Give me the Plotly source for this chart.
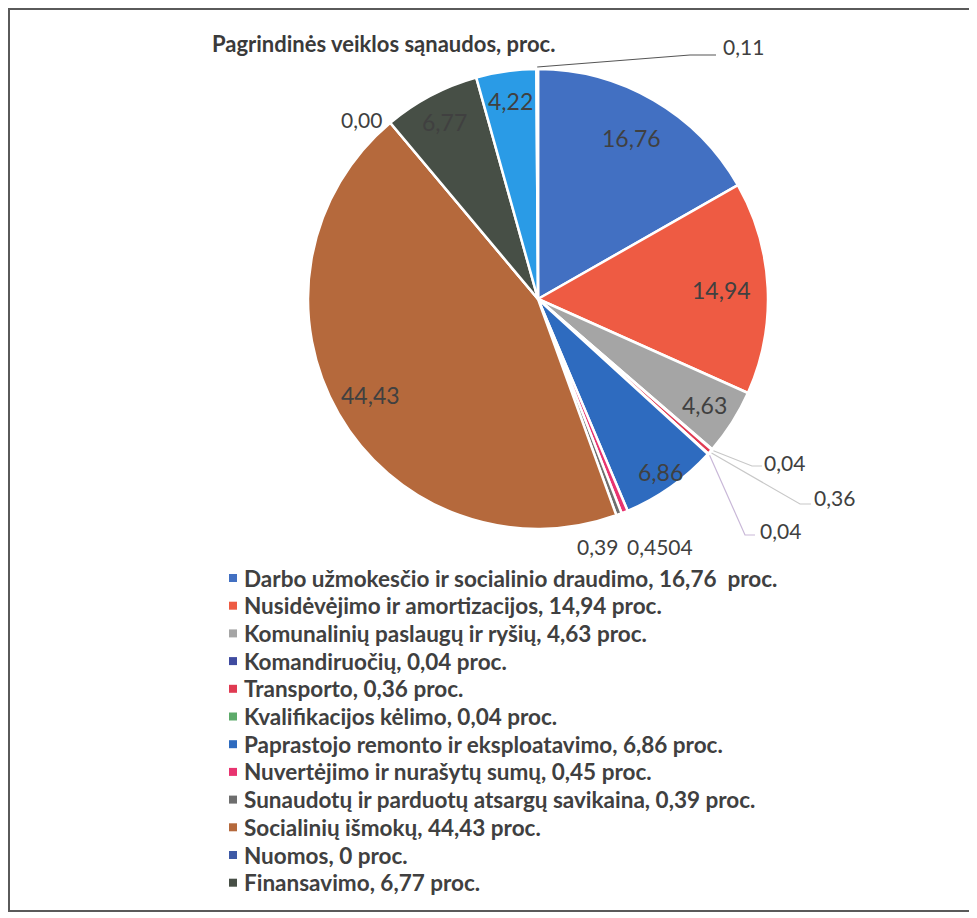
import math
import plotly.graph_objects as go

W, H = 977, 918
OFF = 8  # default page margin of the HTML body

title_text = "Pagrindinės veiklos sąnaudos, proc."

labels = [
    "Darbo užmokesčio ir socialinio draudimo",
    "Nusidėvėjimo ir amortizacijos",
    "Komunalinių paslaugų ir ryšių",
    "Komandiruočių",
    "Transporto",
    "Kvalifikacijos kėlimo",
    "Paprastojo remonto ir eksploatavimo",
    "Nuvertėjimo ir nurašytų sumų",
    "Sunaudotų ir parduotų atsargų savikaina",
    "Socialinių išmokų",
    "Nuomos",
    "Finansavimo",
    "Kitos paslaugos",
    "Kitos sąnaudos",
]
values = [16.76, 14.94, 4.63, 0.04, 0.36, 0.04, 6.86, 0.4504, 0.39, 44.43, 0.00, 6.77, 4.22, 0.11]
value_labels = ["16,76", "14,94", "4,63", "0,04", "0,36", "0,04", "6,86", "0,4504", "0,39",
                "44,43", "0,00", "6,77", "4,22", "0,11"]
legend_texts = [
    "Darbo užmokesčio ir socialinio draudimo, 16,76  proc.",
    "Nusidėvėjimo ir amortizacijos, 14,94 proc.",
    "Komunalinių paslaugų ir ryšių, 4,63 proc.",
    "Komandiruočių, 0,04 proc.",
    "Transporto, 0,36 proc.",
    "Kvalifikacijos kėlimo, 0,04 proc.",
    "Paprastojo remonto ir eksploatavimo, 6,86 proc.",
    "Nuvertėjimo ir nurašytų sumų, 0,45 proc.",
    "Sunaudotų ir parduotų atsargų savikaina, 0,39 proc.",
    "Socialinių išmokų, 44,43 proc.",
    "Nuomos, 0 proc.",
    "Finansavimo, 6,77 proc.",
]
colors = ["#4270C2", "#EE5B43", "#A5A5A5", "#3F4BA0", "#E03A52", "#5DAA6A", "#2E6BBF",
          "#E83470", "#6E6E6E", "#B5693C", "#3E5AA6", "#474F46", "#2A9BE6", "#264478"]

# layout geometry (pixels in page coordinates)
CX, CY, R = 538, 299, 230


def px(x):
    return (x - OFF) / W


def py(y):
    return 1 - (y - OFF) / H


fig = go.Figure()
fig.add_trace(go.Pie(
    labels=labels,
    values=values,
    textinfo="none",
    sort=False,
    direction="clockwise",
    rotation=0,
    marker=dict(colors=colors, line=dict(color="white", width=2.5)),
    showlegend=False,
    domain=dict(x=[px(CX - R), px(CX + R)], y=[py(CY + R), py(CY - R)]),
    hoverinfo="label+value",
))

# slice mid-angles from data
total = sum(values)
mid_angles = []
cum = 0.0
for v in values:
    mid_angles.append((cum + v / 2) / total * 2 * math.pi)
    cum += v


def polar(i, rr):
    a = mid_angles[i]
    return CX + rr * math.sin(a), CY - rr * math.cos(a)


annotations = []
shapes = []

# inside labels: slice index -> radial fraction
inside_r = {0: 0.81, 1: 0.80, 2: 0.86, 6: 0.92, 9: 0.84, 11: 0.87, 12: 0.87}
for i, f in inside_r.items():
    x, y = polar(i, R * f)
    annotations.append(dict(
        x=px(x), y=py(y), xref="paper", yref="paper", text=value_labels[i],
        showarrow=False, xanchor="center", yanchor="middle",
        font=dict(family="Lato", size=23, color="#404040"),
    ))

# outside labels: (slice index, label x, label y, leader waypoints, line colour)
outside_specs = [
    (3, 784, 462, [(752, 466), (762, 466)], "#C8C8C8"),
    (4, 834, 498, [(800, 504), (811, 504)], "#C8C8C8"),
    (5, 780, 530, [(745, 535), (755, 535)], "#C9B8D8"),
    (7, 660, 546, None, None),
    (8, 597, 546, None, None),
    (10, 361, 120, None, None),
    (13, 743, 46, [(690, 55), (716, 55)], "#555555"),
]
for i, lx, ly, pts, lc in outside_specs:
    annotations.append(dict(
        x=px(lx), y=py(ly), xref="paper", yref="paper", text=value_labels[i],
        showarrow=False, xanchor="center", yanchor="middle",
        font=dict(family="Lato", size=21, color="#404040"),
    ))
    if pts:
        ex, ey = polar(i, R + 2)
        allp = [(ex, ey)] + pts
        path = "M " + " L ".join(f"{px(x):.5f},{py(y):.5f}" for x, y in allp)
        shapes.append(dict(type="path", xref="paper", yref="paper", path=path,
                           line=dict(color=lc, width=1.2)))

# title
annotations.append(dict(
    x=px(383), y=py(44), xref="paper", yref="paper", text="<b>" + title_text + "</b>",
    showarrow=False, xanchor="center", yanchor="middle",
    font=dict(family="Lato", size=22, color="#3A3A3A"),
))

# legend (12 entries shown in the original)
row0, step = 578, 27.7
for k, t in enumerate(legend_texts):
    y = row0 + k * step
    shapes.append(dict(type="rect", xref="paper", yref="paper",
                       x0=px(229), x1=px(237), y0=py(y + 4), y1=py(y - 4),
                       fillcolor=colors[k], line=dict(width=0)))
    annotations.append(dict(
        x=px(242), y=py(y), xref="paper", yref="paper", text="<b>" + t + "</b>",
        showarrow=False, xanchor="left", yanchor="middle",
        font=dict(family="Lato", size=22.5, color="#404040"),
    ))

# outer frame
shapes.append(dict(type="rect", xref="paper", yref="paper",
                   x0=px(9), x1=px(1000), y0=py(911), y1=py(9),
                   line=dict(color="#5A5A5A", width=2), fillcolor="rgba(0,0,0,0)"))

fig.update_layout(
    width=W, height=H,
    margin=dict(l=0, r=0, t=0, b=0),
    paper_bgcolor="white",
    plot_bgcolor="white",
    annotations=annotations,
    shapes=shapes,
    showlegend=False,
)

fig.write_html("out.html")
